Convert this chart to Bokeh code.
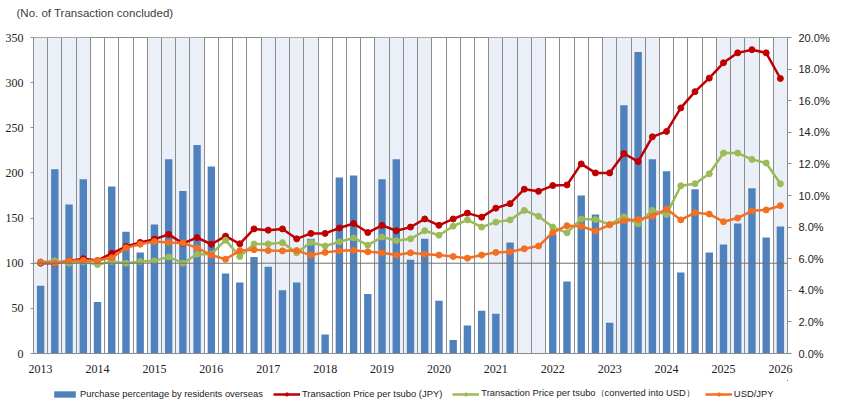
import math
from bokeh.plotting import figure
from bokeh.layouts import column
from bokeh.models import (ColumnDataSource, Range1d, LinearAxis, FixedTicker,
                          PrintfTickFormatter, Span, Legend, LegendItem, BoxAnnotation)
from bokeh.embed import file_html
from bokeh.resources import INLINE

# ---------------- data ----------------
years = list(range(2013, 2027))
periods = [f"{y}Q{q}" for y in range(2013, 2026) for q in range(1, 5)] + ["2026Q1"]

# Purchase percentage by residents overseas (%), right axis
overseas_pct = [4.29, 11.66, 9.43, 11.03,
                3.26, 10.57, 7.71, 6.40,
                8.17, 12.29, 10.29, 13.20,
                11.83, 5.06, 4.49, 6.11,
                5.49, 4.00, 4.49, 7.26,
                1.20, 11.14, 11.26, 3.77,
                11.03, 12.29, 5.94, 7.26,
                3.34, 0.86, 1.77, 2.71,
                2.51, 7.03, None, None,
                7.54, 4.55, 10.00, 8.80,
                1.94, 15.71, 19.09, 12.29,
                11.54, 5.12, 10.40, 6.40,
                6.90, 8.23, 10.46, 7.34,
                8.04]

# Transaction Price per tsubo (JPY), index (2013Q1 = 100), left axis
price_jpy = [100, 100, 102.6, 105,
             103, 111, 118.5, 123,
             126.6, 132, 122, 128.4,
             121, 130, 121.5, 138,
             136.6, 138, 127, 133,
             133, 139, 144, 134,
             142, 136, 140, 149,
             142, 149, 155.5, 151,
             161, 166, 182, 179.6,
             186, 186.7, 210, 200,
             200, 221.5, 212.6, 240,
             246, 272, 290, 305,
             322, 333, 336.5, 333,
             304.6]

# Transaction Price per tsubo (converted into USD), index
price_usd = [101, 102.6, 100, 101.5,
             98.5, 102, 100, 102,
             102.6, 107, 100, 110,
             110, 125.5, 107.4, 121.3,
             121.3, 122.8, 111.5, 123,
             119, 123.7, 128, 120,
             129, 125, 127, 136,
             131, 141, 148, 140,
             145.5, 148, 158.5, 152,
             140, 133.7, 149, 148.4,
             143, 151.5, 143.8, 158.5,
             154, 185.8, 188, 199,
             222, 222, 215, 211,
             188]

# USD/JPY, index
usd_jpy = [101.5, 100, 102.6, 103,
           103, 106, 117, 121,
           124, 123, 122.5, 117,
           109, 104.4, 114, 115,
           114, 113.7, 114, 109,
           112, 113.7, 114.4, 112.6,
           111.5, 109, 111.5, 110,
           109, 107.4, 105.6, 109,
           112, 112.6, 116, 119,
           134, 141.5, 141, 135.5,
           142.5, 147, 148.3, 152,
           160, 148, 156, 154.4,
           146, 150, 158, 159,
           163.7]

# shaded year bands (start period, end period inclusive)
shade_bands = [("2013Q1", "2013Q4"), ("2015Q1", "2015Q4"), ("2017Q1", "2017Q4"),
               ("2019Q1", "2019Q4"), ("2021Q1", "2021Q4"), ("2023Q1", "2023Q4"),
               ("2025Q1", "2025Q3"), ("2026Q1", "2026Q1")]

title_text = "(No. of Transaction concluded)"
legend_labels = ["Purchase percentage by residents overseas",
                 "Transaction Price per tsubo (JPY)",
                 "Transaction Price per tsubo（converted into USD）",
                 "USD/JPY"]

# ---------------- helpers ----------------
def px(period):
    y, q = period.split("Q")
    return int(y) + (int(q) - 1) / 4.0

xs = [px(p) for p in periods]
nan = float("nan")
src = ColumnDataSource(dict(
    x=xs,
    pct=[nan if v is None else v for v in overseas_pct],
    jpy=price_jpy, usd=price_usd, fx=usd_jpy))

BLUE = "#4F81BD"
RED = "#C00000"
GREEN = "#9BBB59"
ORANGE = "#F36F21"
GRID = "#8C8C8C"
SHADE = "#EBF0F8"

p = figure(width=835, height=380, output_backend="svg", toolbar_location=None,
           x_range=Range1d(xs[0] - 0.125, xs[-1] + 0.125),
           y_range=Range1d(0, 350),
           min_border_left=33, min_border_right=48, min_border_top=37,
           min_border_bottom=27)
p.extra_y_ranges = {"pct": Range1d(0, 20)}

# second (blank) line lifts the title text well above the plot frame
p.title.text = title_text + "\n "
p.title.align = "left"
p.title.vertical_align = "bottom"
p.title.offset = -17
p.title.standoff = 8
p.title.text_line_height = 1.2
p.title.text_font = "Liberation Sans"
p.title.text_font_size = "11.5px"
p.title.text_font_style = "normal"
p.title.text_color = "#404040"

p.outline_line_color = GRID
p.background_fill_color = "white"
p.border_fill_color = "white"

# shading bands
for a, b in shade_bands:
    p.add_layout(BoxAnnotation(left=px(a) - 0.125, right=px(b) + 0.125,
                               fill_color=SHADE, fill_alpha=1.0, line_color=None,
                               level="image"))

# grid
p.ygrid.grid_line_color = None
bounds = [x - 0.125 for x in xs] + [xs[-1] + 0.125]
p.xgrid.ticker = FixedTicker(ticks=bounds)
p.xgrid.grid_line_color = GRID
p.xgrid.grid_line_width = 1
p.xgrid.level = "underlay"

# axes
p.xaxis.ticker = FixedTicker(ticks=years)
p.xaxis.major_label_overrides = {y: str(y) for y in years}
p.xaxis.major_tick_line_color = None
p.xaxis.minor_tick_line_color = None
p.xaxis.axis_line_color = GRID
p.xaxis.major_label_text_font = "Liberation Serif"
p.xaxis.major_label_text_font_size = "12px"
p.xaxis.major_label_text_color = "#222222"
p.xaxis.major_label_standoff = 5

p.yaxis.ticker = FixedTicker(ticks=list(range(0, 351, 50)))
p.yaxis.axis_line_color = GRID
p.yaxis.major_tick_line_color = GRID
p.yaxis.major_tick_out = 3
p.yaxis.major_tick_in = 0
p.yaxis.minor_tick_line_color = None
p.yaxis.major_label_text_font = "Liberation Serif"
p.yaxis.major_label_text_font_size = "12px"
p.yaxis.major_label_text_color = "#222222"
p.yaxis.major_label_standoff = 7

ra = LinearAxis(y_range_name="pct", ticker=FixedTicker(ticks=list(range(0, 21, 2))),
                formatter=PrintfTickFormatter(format="%.1f%%"))
ra.axis_line_color = GRID
ra.major_tick_line_color = GRID
ra.major_tick_out = 4
ra.major_tick_in = 0
ra.minor_tick_line_color = None
ra.major_label_text_font = "Liberation Sans"
ra.major_label_text_font_size = "11px"
ra.major_label_text_color = "#222222"
ra.major_label_standoff = 7
p.add_layout(ra, "right")

# 100 baseline
p.add_layout(Span(location=100, dimension="width", line_color="#707070", line_width=1))

# bars
bars = p.vbar(x="x", top="pct", width=0.13, bottom=0, source=src, y_range_name="pct",
              fill_color=BLUE, line_color=None)

# lines
def series(fig, source, col, color):
    l = fig.line("x", col, source=source, line_color=color, line_width=2.5)
    s = fig.scatter("x", col, source=source, marker="circle", size=6,
                    fill_color=color, line_color=color)
    return [l, s]

series(p, src, "jpy", RED)
series(p, src, "usd", GREEN)
series(p, src, "fx", ORANGE)

# ---------------- legend strip (same renderers style, data off-screen) ----------------
lg = figure(width=835, height=23, output_backend="svg", toolbar_location=None,
            x_range=Range1d(0, 1), y_range=Range1d(-1000, -999),
            x_axis_type=None, y_axis_type=None,
            min_border_left=0, min_border_right=0, min_border_top=0, min_border_bottom=0)
lg.outline_line_color = None
lg.xgrid.visible = False
lg.ygrid.visible = False
lb = lg.vbar(x="x", top="pct", width=0.13, source=src, fill_color=BLUE, line_color=None)
l_jpy = series(lg, src, "jpy", RED)
l_usd = series(lg, src, "usd", GREEN)
l_fx = series(lg, src, "fx", ORANGE)

legend = Legend(items=[LegendItem(label=legend_labels[0], renderers=[lb]),
                       LegendItem(label=legend_labels[1], renderers=l_jpy),
                       LegendItem(label=legend_labels[2], renderers=l_usd),
                       LegendItem(label=legend_labels[3], renderers=l_fx)],
                orientation="horizontal", location=(18, 3))
legend.border_line_color = None
legend.background_fill_alpha = 0
legend.label_text_font = "Liberation Sans"
legend.label_text_font_size = "9.4px"
legend.label_text_color = "#222222"
legend.glyph_width = 27
legend.glyph_height = 8
legend.label_standoff = 2
legend.spacing = 10
legend.padding = 2
legend.margin = 0
legend.label_height = 10
lg.add_layout(legend, "center")

layout = column(p, lg, spacing=0)
open("out.html", "w").write(file_html(layout, INLINE))
